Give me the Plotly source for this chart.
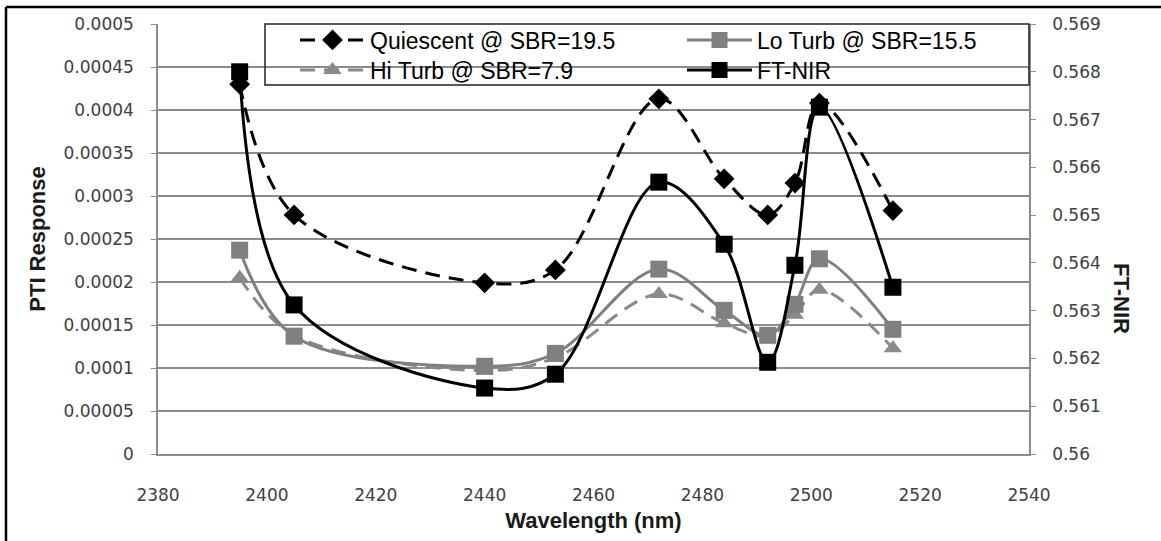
import plotly.graph_objects as go

wavelength = [2395, 2405, 2440, 2453, 2472, 2484, 2492, 2497, 2501.5, 2515]
quiescent = [0.000430, 0.000278, 0.000199, 0.000214, 0.000413, 0.000320, 0.000278, 0.000315, 0.000408, 0.000283]
lo_turb = [0.000237, 0.000137, 0.000102, 0.000117, 0.000215, 0.000167, 0.000138, 0.000174, 0.000227, 0.000145]
hi_turb = [0.000205, 0.000138, 0.000097, 0.000112, 0.000186, 0.000152, 0.000137, 0.000162, 0.000191, 0.000123]
ft_nir = [0.56800, 0.56312, 0.56138, 0.56167, 0.56569, 0.56439, 0.56192, 0.56395, 0.56726, 0.56349]

left_ticks = [0, 0.00005, 0.0001, 0.00015, 0.0002, 0.00025, 0.0003, 0.00035, 0.0004, 0.00045, 0.0005]
left_labels = ["0", "0.00005", "0.0001", "0.00015", "0.0002", "0.00025", "0.0003", "0.00035", "0.0004", "0.00045", "0.0005"]
right_ticks = [0.56, 0.561, 0.562, 0.563, 0.564, 0.565, 0.566, 0.567, 0.568, 0.569]
right_labels = ["0.56", "0.561", "0.562", "0.563", "0.564", "0.565", "0.566", "0.567", "0.568", "0.569"]
x_ticks = [2380, 2400, 2420, 2440, 2460, 2480, 2500, 2520, 2540]

names = ["Quiescent @ SBR=19.5", "Lo Turb @ SBR=15.5", "Hi Turb @ SBR=7.9", "FT-NIR"]

W, H = 1161, 541
L, R, T, B = 158, 1029, 24, 454
def px(x):
    return (x - L) / (R - L)
def py(y):
    return (B - y) / (B - T)

GRAY = "#808080"
DASH = "15px,9px"
fig = go.Figure()
fig.add_trace(go.Scatter(x=wavelength, y=hi_turb, name=names[2], legend="legend2", legendrank=1,
                         mode="lines+markers", line=dict(color="#8a8a8a", width=3, dash=DASH, shape="spline", smoothing=1),
                         marker=dict(symbol="triangle-up", size=16, color="#8a8a8a")))
fig.add_trace(go.Scatter(x=wavelength, y=lo_turb, name=names[1], legend="legend", legendrank=2,
                         mode="lines+markers", line=dict(color=GRAY, width=3, shape="spline", smoothing=1),
                         marker=dict(symbol="square", size=17, color=GRAY)))
fig.add_trace(go.Scatter(x=wavelength, y=quiescent, name=names[0], legend="legend", legendrank=1,
                         mode="lines+markers", line=dict(color="black", width=3, dash=DASH, shape="spline", smoothing=1),
                         marker=dict(symbol="diamond", size=16, color="black")))
fig.add_trace(go.Scatter(x=wavelength, y=ft_nir, name=names[3], legend="legend2", legendrank=2, yaxis="y2",
                         mode="lines+markers", line=dict(color="black", width=3, shape="spline", smoothing=1),
                         marker=dict(symbol="square", size=17, color="black")))

tickfont = dict(family="DejaVu Sans", size=17, color="#404040")
titlefont = dict(family="Liberation Sans", size=22, color="#1a1a1a")
legfont = dict(family="Liberation Sans", size=23, color="black")
legcommon = dict(orientation="h", xanchor="left", yanchor="middle", entrywidth=307, itemwidth=65,
                 bgcolor="rgba(0,0,0,0)", borderwidth=0, font=legfont)
fig.update_layout(
    width=W, height=H,
    margin=dict(l=L, r=W - R, t=T, b=H - B),
    paper_bgcolor="white", plot_bgcolor="white",
    showlegend=True,
    legend=dict(x=px(295), y=py(40), **legcommon),
    legend2=dict(x=px(295), y=py(70), **legcommon),
    xaxis=dict(range=[2380, 2540], tickvals=x_ticks, showgrid=False, zeroline=False,
               showline=True, linecolor="#8c8c8c", linewidth=1.5, ticks="", tickfont=tickfont,
               ticklabelstandoff=25,
               title=dict(text="<b>Wavelength (nm)</b>", font=titlefont, standoff=8)),
    yaxis=dict(range=[0, 0.0005], tickvals=left_ticks, ticktext=left_labels, showgrid=True,
               gridcolor="#8c8c8c", gridwidth=1.5, zeroline=False, showline=True, linecolor="#8c8c8c",
               linewidth=1.5, ticks="outside", ticklen=5, tickcolor="#8c8c8c", tickfont=tickfont,
               ticklabelstandoff=14,
               title=dict(text="<b>PTI Response</b>", font=titlefont, standoff=12)),
    yaxis2=dict(range=[0.56, 0.569], tickvals=right_ticks, ticktext=right_labels, overlaying="y",
                side="right", showgrid=False, zeroline=False, showline=True, linecolor="#8c8c8c",
                linewidth=1.5, ticks="outside", ticklen=5, tickcolor="#8c8c8c", tickfont=tickfont,
                ticklabelstandoff=13),
    shapes=[
        dict(type="rect", xref="paper", yref="paper", x0=px(265), x1=px(1029), y0=py(24), y1=py(85),
             line=dict(color="#222222", width=1.5), fillcolor="rgba(0,0,0,0)", layer="above"),
        dict(type="line", xref="paper", yref="paper", x0=px(6), x1=px(6), y0=py(7), y1=py(560),
             line=dict(color="black", width=2.5)),
        dict(type="line", xref="paper", yref="paper", x0=px(6), x1=px(1180), y0=py(7), y1=py(7),
             line=dict(color="black", width=2.5)),
    ],
    annotations=[
        dict(text="<b>FT-NIR</b>", xref="paper", yref="paper", x=px(1122), y=py(298), showarrow=False,
             textangle=90, font=titlefont, xanchor="center", yanchor="middle"),
    ],
)

fig.write_html("out.html")
